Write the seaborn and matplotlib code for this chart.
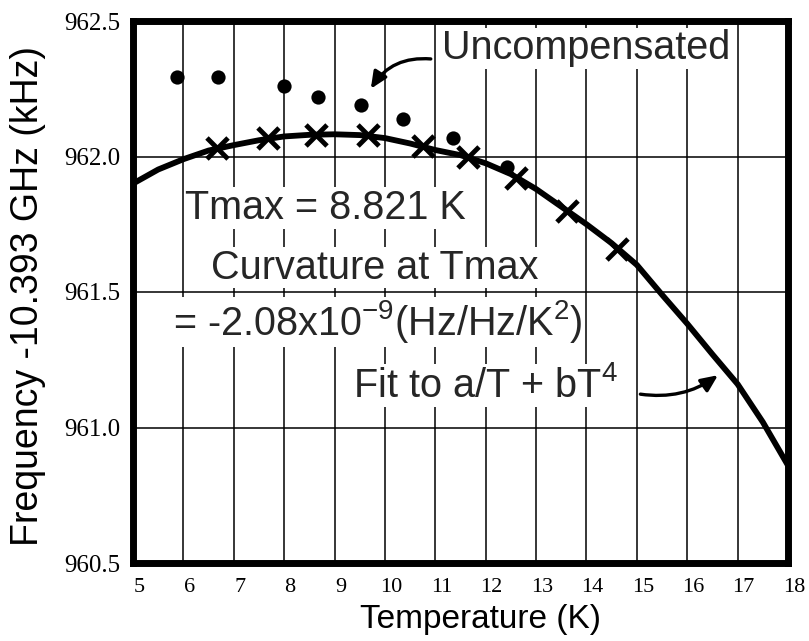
import numpy as np
import pandas as pd
import matplotlib
matplotlib.use("Agg")
import matplotlib.pyplot as plt
import matplotlib.transforms as mtransforms
import seaborn as sns

# ---- data ----
uncomp_T = [5.87, 6.68, 7.99, 8.67, 9.52, 10.35, 11.36, 12.43]
uncomp_f = [962.294, 962.294, 962.26, 962.22, 962.19, 962.14, 962.07, 961.96]

comp_T = [6.66, 7.67, 8.64, 9.66, 10.75, 11.64, 12.61, 13.62, 14.61]
comp_f = [962.03, 962.07, 962.08, 962.08, 962.04, 962.00, 961.92, 961.80, 961.66]

fit_T = [5.0, 5.5, 6.0, 6.5, 7.0, 7.5, 8.0, 8.5, 9.0, 9.5, 10.0, 10.5, 11.0,
         11.5, 12.0, 12.5, 13.0, 13.5, 14.0, 14.5, 15.0, 15.5, 16.0, 16.5,
         17.0, 17.5, 18.0]
fit_f = [961.900, 961.952, 961.990, 962.022, 962.042, 962.060, 962.074,
         962.080, 962.082, 962.079, 962.068, 962.048, 962.024, 962.005,
         961.975, 961.935, 961.880, 961.815, 961.750, 961.680, 961.600,
         961.490, 961.383, 961.270, 961.160, 961.020, 960.860]

x_ticks = list(range(5, 19))
y_ticks = [960.5, 961.0, 961.5, 962.0, 962.5]
y_ticklabels = ["960.5", "961.0", "961.5", "962.0", "962.5"]

# ---- styling ----
sns.set_style("white")
plt.rcParams["font.family"] = ["Liberation Sans", "DejaVu Sans"]

fig = plt.figure(figsize=(8.09, 6.41), dpi=100)
ax = fig.add_axes([133 / 809, 1 - 563 / 641, (788 - 133) / 809, (563 - 21) / 641])

df_fit = pd.DataFrame({"T": fit_T, "f": fit_f})
df_unc = pd.DataFrame({"T": uncomp_T, "f": uncomp_f})
df_cmp = pd.DataFrame({"T": comp_T, "f": comp_f})

sns.lineplot(data=df_fit, x="T", y="f", ax=ax, color="black", linewidth=4.2,
             sort=True, zorder=4)
sns.scatterplot(data=df_unc, x="T", y="f", ax=ax, color="black", marker="o",
                s=105, edgecolor="black", linewidth=0, zorder=5)
sns.scatterplot(data=df_cmp, x="T", y="f", ax=ax, color="black", marker="x",
                s=230, linewidth=3.5, zorder=6)

ax.set_xlim(5, 18)
ax.set_ylim(960.5, 962.5)
ax.set_xticks(x_ticks)
ax.set_xticklabels([str(t) for t in x_ticks], fontfamily="Liberation Serif",
                   fontsize=16)
ax.set_yticks(y_ticks)
ax.set_yticklabels(y_ticklabels, fontfamily="Liberation Serif", fontsize=18)
ax.tick_params(axis="both", length=0, colors="black")
ax.tick_params(axis="x", pad=11)
ax.tick_params(axis="y", pad=9)
offset = mtransforms.ScaledTranslation(6 / 100, 0, fig.dpi_scale_trans)
for lab in ax.get_xticklabels():
    lab.set_transform(lab.get_transform() + offset)

ax.grid(True, color="black", linewidth=1.1, zorder=0)
ax.set_axisbelow(True)
for s in ax.spines.values():
    s.set_visible(True)
    s.set_color("black")
    s.set_linewidth(5)
    s.set_zorder(7)

ax.set_xlabel("Temperature (K)", fontsize=24, color="black")
ax.set_ylabel("Frequency -10.393 GHz (kHz)", fontsize=27, color="black")
ax.xaxis.set_label_coords(0.531, -0.075)
ax.yaxis.set_label_coords(-0.133, 0.493)

box = dict(facecolor="white", edgecolor="none", pad=1)
tfs = 28.5
ax.text(8.82, 961.81, "Tmax = 8.821 K", fontsize=tfs, ha="center",
        va="center", bbox=box, zorder=3)
ax.text(9.8, 961.59, "Curvature at Tmax", fontsize=tfs, ha="center",
        va="center", bbox=box, zorder=3)
ax.text(9.85, 961.39, r"= -2.08x10$^{\mathregular{-9}}$(Hz/Hz/K$^{\mathregular{2}}$)",
        fontsize=tfs, ha="center", va="center", bbox=box, zorder=3)
ax.text(12.0, 961.155, r"Fit to a/T + bT$^{\mathregular{4}}$", fontsize=tfs,
        ha="center", va="center", bbox=box, zorder=3)
ax.text(14.0, 962.4, "Uncompensated", fontsize=tfs, ha="center",
        va="center", bbox=box, zorder=3)

arrow = dict(arrowstyle="-|>,head_length=1.0,head_width=0.45", color="black",
             lw=2.4, shrinkA=0, shrinkB=0)
ax.annotate("", xy=(9.72, 962.25), xytext=(10.91, 962.36),
            arrowprops=dict(arrow, connectionstyle="arc3,rad=0.3"), zorder=8)
ax.annotate("", xy=(16.61, 961.193), xytext=(15.07, 961.123),
            arrowprops=dict(arrow, connectionstyle="arc3,rad=0.2"), zorder=8)

fig.savefig("out.png", dpi=100)
